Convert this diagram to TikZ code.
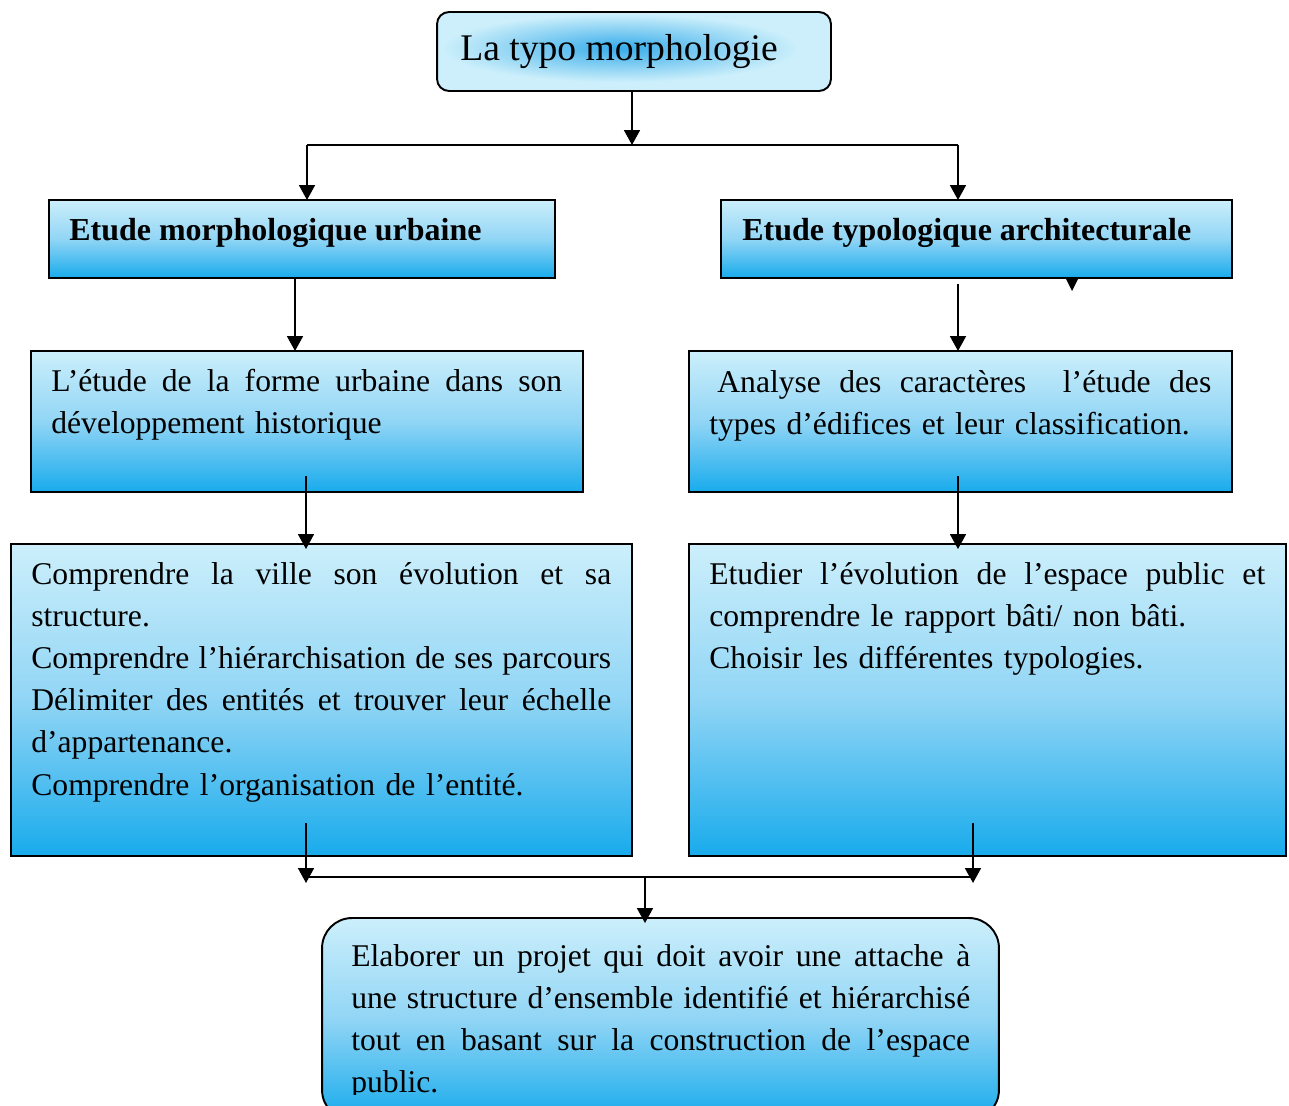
\documentclass[tikz,border=0pt]{standalone}
\usepackage{fontspec}
\setmainfont{Liberation Serif}
\usetikzlibrary{arrows.meta,calc}
\definecolor{lb}{RGB}{204,239,251}
\definecolor{mb}{RGB}{145,213,245}
\definecolor{db}{RGB}{24,171,236}
\definecolor{glowb}{RGB}{55,172,234}
\newcommand{\jl}[2]{\makebox[#1][s]{\spaceskip=0pt\xspaceskip=0pt\relax #2}}
\begin{document}
\begin{tikzpicture}[x=0.02cm,y=-0.02cm,
  box/.style={draw=black, line width=1.1pt, inner sep=0pt, outer sep=0pt,
    shading=axis, top color=lb, bottom color=db, middle color=mb},
  body/.style={anchor=base west, inner sep=0pt, font=\fontsize{18}{24.04}\selectfont},
  head/.style={anchor=base west, inner sep=0pt, font=\fontsize{18.2}{24}\selectfont\bfseries},
  arr/.style={line width=1pt, -{Triangle[width=0.32cm,length=0.3cm]}},
  ln/.style={line width=1pt}]
\clip (0,0) rectangle (1289,1106);
\fill[white] (0,0) rectangle (1289,1106);

% top box
\node[draw=black, line width=1.1pt, fill=lb, rounded corners=0.24cm, inner sep=0pt, outer sep=0pt,
  minimum width=7.88cm, minimum height=1.58cm] (top) at (634,51.5) {};
\shade[inner color=glowb, outer color=lb] (620,48) ellipse [x radius=178, y radius=34];
\node[anchor=base west, inner sep=0pt, font=\fontsize{21.4}{26}\selectfont] (ttl) at (460,60) {La typo morphologie};

% second row
\node[box, minimum width=10.12cm, minimum height=1.56cm] (A) at (302,239) {};
\node[head] (At) at (69,240) {Etude morphologique urbaine};
\node[box, minimum width=10.22cm, minimum height=1.56cm] (B) at (976.5,239) {};
\node[head] (Bt) at (742,240) {Etude typologique architecturale};
\fill (1066,279) -- (1078,279) -- (1072,291) -- cycle;

% third row
\node[box, minimum width=11.04cm, minimum height=2.82cm] (C) at (307,421.5) {};
\node[body, text width=10.22cm] (Ct) at (51,391) {\jl{10.22cm}{L’étude de la forme urbaine dans son}\\développement historique};
\node[box, minimum width=10.86cm, minimum height=2.82cm] (D) at (960.5,421.5) {};
\node[body, text width=10.04cm] (Dt) at (709,392) {\hspace*{0.16cm}\jl{9.88cm}{Analyse des caractères \ l’étude des}\\types d’édifices et leur classification.};

% fourth row
\node[box, minimum width=12.42cm, minimum height=6.24cm] (E) at (321.5,700) {};
\node[body, text width=11.6cm] (Et) at (31,584) {\jl{11.6cm}{Comprendre la ville son évolution et sa}\\structure.\\\jl{11.6cm}{Comprendre l’hiérarchisation de ses parcours}\\\jl{11.6cm}{Délimiter des entités et trouver leur échelle}\\d’appartenance.\\Comprendre l’organisation de l’entité.};
\node[box, minimum width=11.94cm, minimum height=6.24cm] (F) at (987.5,700) {};
\node[body, text width=11.12cm] (Ft) at (709,584) {\jl{11.12cm}{Etudier l’évolution de l’espace public et}\\comprendre le rapport bâti/ non bâti.\\Choisir les différentes typologies.};

% bottom box
\node[box, rounded corners=0.6cm, minimum width=13.54cm, minimum height=4.04cm] (G) at (660.5,1019) {};
\begin{scope}
\clip (0,0) rectangle (1289,1094);
\node[body, text width=12.38cm] (Gt) at (351,966) {\jl{12.38cm}{Elaborer un projet qui doit avoir une attache à}\\\jl{12.38cm}{une structure d’ensemble identifié et hiérarchisé}\\\jl{12.38cm}{tout en basant sur la construction de l’espace}\\public.};
\end{scope}

% connectors
\coordinate (j1) at (632,145);
\coordinate (jl) at (307,145);
\coordinate (jr) at (958,145);
\draw[arr] (top.south -| j1) -- (j1);
\draw[ln] (jl) -- (jr);
\draw[arr] (jl) -- (A.north -| jl);
\draw[arr] (jr) -- (B.north -| jr);
\coordinate (xac) at (295,0);
\draw[arr] (A.south -| xac) -- (C.north -| xac);
\draw[arr] ($(B.south -| jr)+(0,6)$) -- (D.north -| jr);
\coordinate (ce) at (306,476);
\draw[arr] (ce) -- ($(E.north -| ce)+(0,5)$);
\coordinate (df) at (958,476);
\draw[arr] (df) -- ($(F.north -| df)+(0,5)$);
\coordinate (eb) at (306,823);
\coordinate (fb) at (973,823);
\coordinate (bl) at (306,877);
\coordinate (br) at (973,877);
\coordinate (bm) at (645,877);
\draw[arr] (eb) -- ($(bl)+(0,6)$);
\draw[arr] (fb) -- ($(br)+(0,6)$);
\draw[ln] (bl) -- (br);
\draw[arr] (bm) -- ($(G.north -| bm)+(0,5)$);
\end{tikzpicture}
\end{document}
